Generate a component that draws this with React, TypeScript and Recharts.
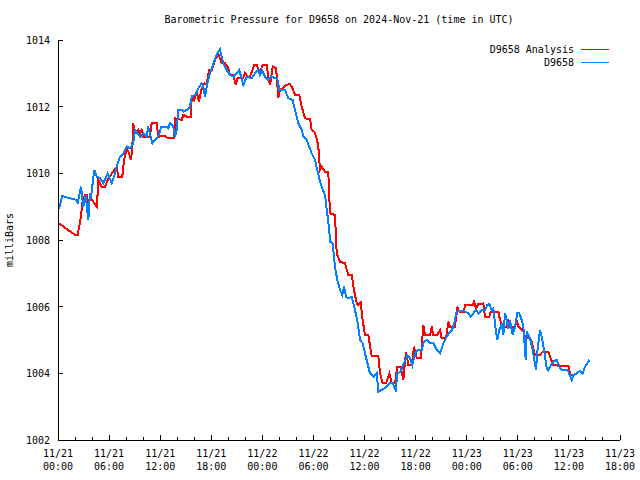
import { LineChart, Line, XAxis, YAxis, Legend } from 'recharts';

// [hours since 11/21 00:00 UTC, milliBars]
const analysisReadings = [
  [0, 1008.52], [2.0, 1008.15], [2.31, 1008.15], [2.7, 1008.7], [2.85, 1009.1], [3.17, 1009.35], [3.37, 1009.35],
  [3.56, 1009.1], [3.88, 1009.25], [4.15, 1009.15], [4.54, 1009.0], [4.66, 1009.4], [4.73, 1009.8], [5.13, 1009.6],
  [5.52, 1009.6], [5.91, 1009.85], [6.49, 1010.05], [6.89, 1010.2], [7.08, 1009.9], [7.55, 1009.9], [7.75, 1010.4],
  [8.07, 1010.75], [8.34, 1010.6], [8.57, 1010.4], [8.73, 1010.8], [8.84, 1011.5], [9.04, 1011.2], [9.43, 1011.3],
  [9.63, 1011.2], [9.83, 1011.3], [10.02, 1011.1], [10.8, 1011.1], [11.0, 1011.5], [11.59, 1011.52], [11.78, 1011.1],
  [12.57, 1011.12], [12.95, 1011.05], [13.66, 1011.05], [13.74, 1011.65], [14.53, 1011.6], [14.72, 1011.75],
  [15.11, 1011.7], [15.62, 1011.7], [15.7, 1012.3], [16.01, 1012.2], [16.29, 1012.45], [16.56, 1012.15],
  [16.88, 1012.55], [17.18, 1012.7], [17.46, 1012.65], [17.73, 1013.1], [18.05, 1013.1], [18.44, 1013.4],
  [18.83, 1013.58], [19.22, 1013.3], [19.61, 1013.3], [19.93, 1013.2], [20.2, 1012.95], [20.59, 1012.95],
  [20.87, 1012.65], [21.1, 1012.87], [21.76, 1012.87], [21.96, 1013.02], [22.28, 1012.9], [22.55, 1012.9],
  [23.05, 1013.25], [23.33, 1013.25], [23.72, 1013.05], [24.04, 1013.25], [24.51, 1013.25], [24.78, 1012.75],
  [24.9, 1012.65], [25.21, 1013.2], [25.6, 1013.15], [25.68, 1012.95], [25.87, 1012.25], [26.07, 1012.5],
  [26.39, 1012.55], [26.78, 1012.65], [27.25, 1012.68], [27.63, 1012.5], [27.83, 1012.35], [28.34, 1012.35],
  [28.62, 1012.0], [29.01, 1011.65], [29.6, 1011.62], [29.79, 1011.3], [30.1, 1011.25], [30.38, 1011.05],
  [30.57, 1010.8], [30.77, 1010.1], [30.97, 1010.2], [31.36, 1010.05], [31.74, 1010.05], [31.94, 1008.8],
  [32.53, 1008.75], [32.73, 1007.6], [33.12, 1007.35], [33.7, 1007.3], [34.09, 1006.95], [34.49, 1006.95],
  [34.76, 1006.5], [35.08, 1006.1], [35.27, 1006.05], [35.55, 1006.12], [35.78, 1005.6], [36.05, 1005.15],
  [36.44, 1005.15], [36.84, 1004.52], [37.62, 1004.52], [37.82, 1004.0], [38.13, 1003.7], [38.52, 1003.7],
  [38.91, 1004.0], [39.19, 1003.7], [39.58, 1003.7], [39.85, 1004.2], [40.25, 1004.2], [40.55, 1003.8],
  [40.87, 1004.65], [41.14, 1004.25], [41.54, 1004.25], [41.81, 1004.8], [42.13, 1004.45], [42.63, 1004.45],
  [42.75, 1004.9], [42.9, 1005.45], [43.1, 1005.15], [43.69, 1005.15], [43.89, 1005.4], [44.08, 1005.15],
  [44.54, 1005.15], [44.86, 1005.3], [45.06, 1005.05], [45.57, 1005.05], [45.84, 1005.55], [46.04, 1005.4],
  [46.62, 1005.4], [46.82, 1005.8], [46.89, 1006.0], [47.13, 1005.85], [47.68, 1005.85], [47.8, 1006.05],
  [48.7, 1006.05], [48.86, 1006.15], [49.09, 1005.95], [49.36, 1006.08], [49.76, 1006.08], [49.95, 1006.1],
  [50.15, 1005.7], [50.65, 1005.7], [50.82, 1005.85], [51.71, 1005.85], [51.91, 1005.6], [52.23, 1005.4],
  [52.7, 1005.4], [52.88, 1005.55], [53.08, 1005.4], [53.67, 1005.4], [53.87, 1005.6], [54.06, 1005.4],
  [54.46, 1005.3], [54.73, 1005.25], [54.85, 1005.05], [55.43, 1005.05], [55.63, 1004.95], [56.02, 1004.55],
  [56.61, 1004.55], [56.92, 1004.65], [57.58, 1004.65], [57.78, 1004.5], [58.17, 1004.25], [58.99, 1004.22],
  [59.96, 1004.22], [60.16, 1003.95], [60.55, 1003.95],
];

const stationReadings = [
  [0, 1009.1], [0.18, 1009.0], [0.5, 1009.32], [1.41, 1009.25], [2.2, 1009.2], [2.31, 1009.1], [2.7, 1009.6],
  [2.97, 1009.0], [3.25, 1009.35], [3.56, 1008.6], [3.76, 1009.4], [3.88, 1009.3], [4.26, 1010.1], [4.54, 1009.9],
  [4.93, 1009.86], [5.32, 1009.7], [5.84, 1010.0], [6.31, 1009.7], [6.69, 1010.0], [6.89, 1010.2], [7.28, 1010.5],
  [7.67, 1010.6], [8.07, 1010.8], [8.46, 1010.75], [8.84, 1010.9], [9.04, 1011.3], [9.63, 1011.1], [10.02, 1011.2],
  [10.42, 1011.1], [10.6, 1011.4], [11.07, 1010.9], [11.59, 1011.05], [11.86, 1011.15], [12.1, 1011.4],
  [12.77, 1011.4], [12.95, 1011.35], [13.15, 1011.5], [13.54, 1011.4], [13.74, 1011.1], [13.94, 1011.3],
  [14.13, 1011.9], [14.53, 1011.9], [14.72, 1011.85], [15.11, 1011.9], [15.5, 1012.0], [15.7, 1012.3],
  [16.09, 1012.35], [16.48, 1012.55], [16.88, 1012.7], [17.06, 1012.6], [17.26, 1012.3], [17.53, 1012.7],
  [17.85, 1013.0], [18.24, 1013.3], [18.56, 1013.5], [18.83, 1013.65], [19.02, 1013.72], [19.22, 1013.5],
  [19.41, 1013.3], [19.81, 1013.1], [20.2, 1012.95], [20.59, 1012.9], [20.99, 1013.0], [21.29, 1013.1],
  [21.76, 1012.65], [22.16, 1012.9], [22.75, 1012.85], [23.14, 1013.0], [23.52, 1013.1], [23.72, 1012.95],
  [23.92, 1013.1], [24.31, 1012.9], [24.7, 1012.8], [25.1, 1012.9], [25.48, 1012.85], [25.75, 1012.85],
  [25.99, 1012.5], [26.66, 1012.5], [27.05, 1012.25], [27.56, 1012.2], [27.83, 1011.9], [28.22, 1011.5],
  [28.62, 1011.3], [28.81, 1011.1], [29.21, 1011.0], [29.79, 1010.6], [30.18, 1010.4], [30.45, 1010.1],
  [30.77, 1009.75], [31.09, 1009.5], [31.36, 1009.35], [31.56, 1008.9], [31.67, 1008.7], [31.86, 1008.3],
  [31.94, 1007.95], [32.26, 1007.9], [32.53, 1007.2], [32.8, 1006.8], [33.12, 1006.5], [33.39, 1006.35],
  [33.59, 1006.6], [33.82, 1006.3], [34.09, 1006.25], [34.49, 1006.3], [34.88, 1005.9], [35.2, 1005.5],
  [35.47, 1005.0], [35.78, 1004.9], [36.05, 1004.6], [36.44, 1004.2], [36.64, 1004.0], [37.11, 1003.9],
  [37.43, 1004.0], [37.62, 1003.45], [38.02, 1003.5], [38.6, 1003.6], [38.99, 1003.7], [39.31, 1003.7],
  [39.66, 1003.5], [39.85, 1004.0], [40.25, 1004.05], [40.63, 1004.3], [41.02, 1004.55], [41.34, 1004.45],
  [41.61, 1004.25], [41.93, 1004.6], [42.31, 1004.7], [42.71, 1004.7], [42.98, 1004.95], [43.3, 1005.0],
  [43.69, 1004.9], [44.08, 1004.9], [44.47, 1004.7], [44.86, 1004.6], [45.25, 1004.9], [45.65, 1005.1],
  [45.92, 1005.2], [46.27, 1005.3], [46.54, 1005.5], [46.82, 1005.85], [47.6, 1005.88], [48.19, 1005.8],
  [48.47, 1005.7], [48.77, 1005.8], [49.09, 1005.9], [49.36, 1005.8], [49.76, 1005.9], [50.15, 1005.9],
  [50.42, 1006.05], [50.65, 1006.08], [50.93, 1005.9], [51.12, 1005.95], [51.4, 1005.3], [51.59, 1005.0],
  [51.83, 1005.3], [52.11, 1005.5], [52.3, 1005.15], [52.5, 1005.8], [52.7, 1005.6], [52.88, 1005.35],
  [53.08, 1005.6], [53.4, 1005.15], [53.67, 1005.4], [53.94, 1005.8], [54.18, 1005.8], [54.46, 1005.6],
  [54.65, 1005.4], [54.93, 1004.4], [55.04, 1005.25], [55.43, 1005.05], [55.75, 1004.7], [55.94, 1004.4],
  [56.14, 1004.1], [56.29, 1004.65], [56.61, 1005.3], [56.81, 1005.1], [57.08, 1004.7], [57.39, 1004.15],
  [57.58, 1004.1], [57.78, 1004.2], [58.17, 1004.35], [58.57, 1004.4], [58.87, 1004.2], [59.15, 1004.1],
  [59.74, 1004.1], [59.93, 1004.05], [60.33, 1003.8], [60.52, 1003.95], [60.92, 1004.0], [61.3, 1004.08],
  [61.62, 1004.0], [61.89, 1004.2], [62.4, 1004.4],
];

const seriesNames = ['D9658 Analysis', 'D9658'];
const dayLabels = ['11/21', '11/21', '11/21', '11/21', '11/22', '11/22', '11/22', '11/22', '11/23', '11/23', '11/23', '11/23'];
const clockLabels = ['00:00', '06:00', '12:00', '18:00', '00:00', '06:00', '12:00', '18:00', '00:00', '06:00', '12:00', '18:00'];
const hourTicks = Array.from({ length: 34 }, (_, i) => i * 2);
const pressureTicks = [1002, 1004, 1006, 1008, 1010, 1012, 1014];

const analysis = analysisReadings.map(([h, mb]) => ({ h, mb }));
const station = stationReadings.map(([h, mb]) => ({ h, mb }));

const FONT = '"DejaVu Sans Mono", monospace';

function BottomTick({ x, y, payload }: any) {
  const h = payload.value;
  const major = h % 6 === 0;
  const i = h / 6;
  return (
    <g>
      <line x1={x} x2={x} y1={y} y2={y - (major ? 5 : 3)} stroke="#000" shapeRendering="crispEdges" />
      {major && (
        <text x={x} y={y} textAnchor="middle" fontFamily={FONT} fontSize={10} fill="#000">
          <tspan x={x} dy={17}>{dayLabels[i]}</tspan>
          <tspan x={x} dy={13}>{clockLabels[i]}</tspan>
        </text>
      )}
    </g>
  );
}

function TopTick({ x, y, payload }: any) {
  const major = payload.value % 6 === 0;
  return <line x1={x} x2={x} y1={y} y2={y + (major ? 5 : 3)} stroke="#000" shapeRendering="crispEdges" />;
}

function LeftTick({ x, y, payload }: any) {
  return (
    <g>
      <line x1={x} x2={x + 5} y1={y} y2={y} stroke="#000" shapeRendering="crispEdges" />
      <text x={x - 8} y={y + 4} textAnchor="end" fontFamily={FONT} fontSize={10} fill="#000">{payload.value}</text>
    </g>
  );
}

function RightTick({ x, y }: any) {
  return <line x1={x} x2={x - 5} y1={y} y2={y} stroke="#000" shapeRendering="crispEdges" />;
}

function renderLegend({ payload }: any) {
  const items = [...payload].sort((a: any, b: any) => seriesNames.indexOf(a.value) - seriesNames.indexOf(b.value));
  return (
    <div style={{ fontFamily: FONT, fontSize: 10, color: '#000' }}>
      {items.map((e: any) => (
        <div key={e.value} style={{ display: 'flex', justifyContent: 'flex-end', alignItems: 'center', height: 13 }}>
          <span style={{ lineHeight: '13px' }}>{e.value}</span>
          <svg width={36} height={13} style={{ display: 'block' }}>
            <line x1={7} x2={35} y1={6.5} y2={6.5} stroke={e.color} strokeWidth={1.5} shapeRendering="crispEdges" />
          </svg>
        </div>
      ))}
    </div>
  );
}

const axisStroke = { stroke: '#000', shapeRendering: 'crispEdges' };

export default function App() {
  return (
    <div style={{ position: 'absolute', left: 0, top: 0, width: 640, height: 480, background: '#fff' }}>
      <LineChart width={640} height={480} margin={{ top: 40, right: 20, bottom: 0, left: 0 }}>
        <text x={339} y={23} textAnchor="middle" fontFamily={FONT} fontSize={10} fill="#000">
          Barometric Pressure for D9658 on 2024-Nov-21 (time in UTC)
        </text>
        <XAxis
          dataKey="h"
          type="number"
          domain={[0, 66]}
          ticks={hourTicks}
          interval={0}
          height={40}
          allowDataOverflow
          tickSize={0}
          tickMargin={0}
          tickLine={false}
          axisLine={axisStroke}
          tick={BottomTick}
        />
        <XAxis
          xAxisId="top"
          orientation="top"
          dataKey="h"
          type="number"
          domain={[0, 66]}
          ticks={hourTicks}
          interval={0}
          height={0}
          allowDataOverflow
          tickSize={0}
          tickMargin={0}
          tickLine={false}
          axisLine={axisStroke}
          tick={TopTick}
        />
        <YAxis
          type="number"
          domain={[1002, 1014]}
          ticks={pressureTicks}
          interval={0}
          width={58}
          allowDataOverflow
          tickSize={0}
          tickMargin={0}
          tickLine={false}
          axisLine={axisStroke}
          tick={LeftTick}
          label={({ viewBox }: any) => (
            <text
              x={13}
              y={viewBox.y + viewBox.height / 2}
              transform={`rotate(-90, 13, ${viewBox.y + viewBox.height / 2})`}
              textAnchor="middle"
              fontFamily={FONT}
              fontSize={10}
              fill="#000"
            >
              milliBars
            </text>
          )}
        />
        <YAxis
          yAxisId="right"
          orientation="right"
          type="number"
          domain={[1002, 1014]}
          ticks={pressureTicks}
          interval={0}
          width={0}
          allowDataOverflow
          tickSize={0}
          tickMargin={0}
          tickLine={false}
          axisLine={axisStroke}
          tick={RightTick}
        />
        <Legend
          layout="horizontal"
          verticalAlign="middle"
          align="center"
          content={renderLegend}
          wrapperStyle={{ top: 43, left: 380, width: 230, height: 26 }}
        />
        <Line
          data={analysis}
          dataKey="mb"
          name={seriesNames[0]}
          type="linear"
          stroke="#ff0000"
          strokeWidth={2}
          shapeRendering="crispEdges"
          dot={false}
          activeDot={false}
          isAnimationActive={false}
        />
        <Line
          data={station}
          dataKey="mb"
          name={seriesNames[1]}
          type="linear"
          stroke="#0080ff"
          strokeWidth={2}
          shapeRendering="crispEdges"
          dot={false}
          activeDot={false}
          isAnimationActive={false}
        />
      </LineChart>
    </div>
  );
}
